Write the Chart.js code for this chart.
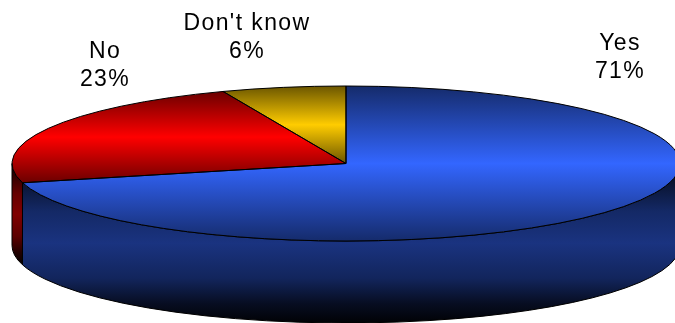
<!DOCTYPE html>
<html>
<head>
<meta charset="utf-8">
<style>
    html, body { margin: 0; padding: 0; background: #fff; overflow: hidden; }
</style>
<script src="https://cdn.jsdelivr.net/npm/chart.js@4"></script>
</head>
<body>
<canvas id="chart" width="675" height="323"></canvas>
<script>
const categories = ["Yes", "No", "Don't know"];
const values = [71, 23, 6];
const baseColors = [[51, 102, 255], [255, 0, 0], [255, 204, 0]];

// pie is a flat circle squashed into an ellipse, depth is the wall height
const pieRadius = 334;
const squash = 77.5 / 334;
const depth = 82;
const labelSpots = [[620, 44], [105, 52], [247, 24]];

const shade = (rgb, f) => `rgb(${rgb.map((c) => Math.round(c * f)).join(",")})`;

// vertical extent of a slice on the unit circle, so each gradient fits its own slice
const sliceRange = (index) => {
    const total = values.reduce((a, b) => a + b, 0);
    const before = values.slice(0, index).reduce((a, b) => a + b, 0);
    const a0 = -Math.PI / 2 + (before / total) * Math.PI * 2;
    const a1 = a0 + (values[index] / total) * Math.PI * 2;
    const ys = [0, Math.sin(a0), Math.sin(a1)];
    [-Math.PI / 2, Math.PI / 2, Math.PI * 1.5].forEach((a) => {
        if (a > a0 && a < a1) ys.push(Math.sin(a));
    });
    return [Math.min(...ys), Math.max(...ys)];
};

const faceGradient = (context) => {
    const chart = context.chart;
    const area = chart.chartArea;
    const rgb = baseColors[context.dataIndex];
    if (!area) return shade(rgb, 1);
    const cy = (area.top + area.bottom) / 2;
    const [u0, u1] = sliceRange(context.dataIndex);
    const g = chart.ctx.createLinearGradient(0, cy + u0 * pieRadius, 0, cy + u1 * pieRadius);
    g.addColorStop(0, shade(rgb, 0.42));
    g.addColorStop(0.5, shade(rgb, 1));
    g.addColorStop(1, shade(rgb, 0.42));
    return g;
};

const pie3d = {
    id: "pie3d",
    beforeDatasetDraw(chart) {
        const ctx = chart.ctx;
        const arcs = chart.getDatasetMeta(0).data;
        const ry = pieRadius * squash;

        ctx.save();
        ctx.lineWidth = 1;
        ctx.strokeStyle = "#000";
        arcs.forEach((arc, i) => {
            const a0 = Math.max(arc.startAngle, 0);
            const a1 = Math.min(arc.endAngle, Math.PI);
            if (a1 <= a0) return;
            const ys = [Math.sin(a0), Math.sin(a1)];
            if (a0 < Math.PI / 2 && a1 > Math.PI / 2) ys.push(1);
            const top = arc.y + ry * Math.min(...ys);
            const bottom = arc.y + ry * Math.max(...ys) + depth;
            const g = ctx.createLinearGradient(0, top, 0, bottom);
            g.addColorStop(0, shade(baseColors[i], 0.06));
            g.addColorStop(0.3, shade(baseColors[i], 0.4));
            g.addColorStop(0.5, shade(baseColors[i], 0.5));
            g.addColorStop(0.72, shade(baseColors[i], 0.36));
            g.addColorStop(0.88, shade(baseColors[i], 0.13));
            g.addColorStop(1, shade(baseColors[i], 0.02));
            ctx.fillStyle = g;
            ctx.beginPath();
            ctx.ellipse(arc.x, arc.y, pieRadius, ry, 0, a0, a1);
            ctx.ellipse(arc.x, arc.y + depth, pieRadius, ry, 0, a1, a0, true);
            ctx.closePath();
            ctx.fill();
            ctx.stroke();
        });
        ctx.restore();

        // the library draws the slices under this transform
        const cy = arcs[0].y;
        ctx.save();
        ctx.translate(0, cy);
        ctx.scale(1, squash);
        ctx.translate(0, -cy);
    },
    afterDatasetDraw(chart) {
        const ctx = chart.ctx;
        ctx.restore();
        ctx.save();
        ctx.lineWidth = 1;
        ctx.strokeStyle = "#000";
        chart.getDatasetMeta(0).data.forEach((arc) => {
            ctx.beginPath();
            ctx.moveTo(arc.x, arc.y);
            ctx.ellipse(arc.x, arc.y, pieRadius, pieRadius * squash, 0, arc.startAngle, arc.endAngle);
            ctx.closePath();
            ctx.stroke();
        });
        ctx.restore();
    },
    afterDraw(chart) {
        const ctx = chart.ctx;
        ctx.save();
        ctx.fillStyle = "#000";
        ctx.font = '23px "Liberation Sans", Arial, sans-serif';
        ctx.letterSpacing = "1.4px";
        ctx.textAlign = "center";
        ctx.textBaseline = "middle";
        categories.forEach((name, i) => {
            const [x, y] = labelSpots[i];
            ctx.fillText(name, x, y);
            ctx.fillText(values[i] + "%", x, y + 28);
        });
        ctx.restore();
    },
};

new Chart(document.getElementById("chart"), {
    type: "pie",
    data: {
        labels: categories,
        datasets: [
            {
                data: values,
                backgroundColor: faceGradient,
                borderWidth: 0,
                clip: false,
            },
        ],
    },
    options: {
        responsive: false,
        animation: false,
        radius: pieRadius,
        layout: { padding: { left: 17, top: 4 } },
        plugins: {
            legend: { display: false },
            tooltip: { enabled: false },
        },
    },
    plugins: [pie3d],
});
</script>
</body>
</html>
